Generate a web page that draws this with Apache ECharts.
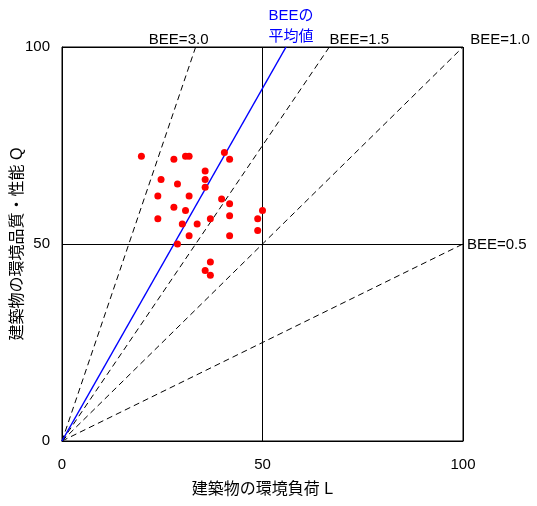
<!DOCTYPE html>
<html lang="ja">
  <head>
    <meta charset="utf-8" />
    <script type="text/javascript" src="https://cdn.jsdelivr.net/npm/echarts@6/dist/echarts.min.js"></script>
    <title>BEE chart</title>
    <style>
      html, body { margin: 0; padding: 0; background: #fff; }
      #chart { width: 537px; height: 506px; }
    </style>
  </head>
  <body>
    <div id="chart"></div>
    <script>
      // 建物ごとの L（環境負荷）と Q（環境品質・性能）
      var loadL = [19.8, 27.9, 30.8, 31.7, 40.5, 41.8, 35.7, 35.7, 24.7, 28.8,
                   35.7, 23.9, 31.7, 39.8, 41.8, 27.9, 30.8, 50.0, 41.8, 23.9,
                   37.0, 48.8, 30.0, 33.7, 31.7, 41.8, 48.8, 28.8, 37.0, 35.7, 37.0]
      var qualityQ = [72.3, 71.5, 72.3, 72.3, 73.2, 71.5, 68.5, 66.4, 66.4, 65.2,
                      64.4, 62.2, 62.2, 61.4, 60.2, 59.3, 58.5, 58.5, 57.2, 56.4,
                      56.4, 56.4, 55.1, 55.1, 52.1, 52.1, 53.4, 50.0, 45.4, 43.3, 42.1]

      // BEE = Q / L の基準線
      var beeLevels = [3.0, 1.5, 1.0, 0.5]
      var beeLabels = ['BEE=3.0', 'BEE=1.5', 'BEE=1.0', 'BEE=0.5']
      var beeAverage = 1.79
      var axisTicks = [0, 50, 100]

      var font = '"Liberation Sans", "Noto Sans CJK JP", sans-serif'

      // 端点ごとのラベル位置
      var labelPos = [
        { position: 'top', offset: [-17, 1] },
        { position: 'top', offset: [30, 1] },
        { position: 'top', offset: [37, 1] },
        { position: 'right', offset: [3, 1] }
      ]

      function beeLine (bee, i) {
        // Q = bee * L を枠（0..100）で切る
        var end = bee >= 1 ? [100 / bee, 100] : [100, 100 * bee]
        return {
          type: 'line',
          silent: true,
          showSymbol: true,
          symbol: 'circle',
          symbolSize: 0,
          lineStyle: { color: '#000', width: 1, type: [6, 4] },
          data: [
            [0, 0],
            {
              value: end,
              label: {
                show: true,
                position: labelPos[i].position,
                offset: labelPos[i].offset,
                distance: 1,
                formatter: beeLabels[i],
                color: '#000',
                fontSize: 15,
                fontFamily: font
              }
            }
          ],
          z: 2
        }
      }

      window.onload = function () {
        var chart = echarts.init(document.getElementById('chart'))
        var series = beeLevels.map(beeLine)

        series.push({
          type: 'line',
          silent: true,
          showSymbol: true,
          symbol: 'circle',
          symbolSize: 0,
          lineStyle: { color: '#0000ff', width: 1.5 },
          data: [
            [0, 0],
            {
              value: [100 / beeAverage, 100],
              label: {
                show: true,
                position: 'top',
                distance: 0,
                offset: [5, 0],
                align: 'center',
                formatter: 'BEEの\n平均値',
                color: '#0000ff',
                fontSize: 15,
                lineHeight: 21,
                fontFamily: font
              }
            }
          ],
          z: 3
        })

        series.push({
          type: 'scatter',
          symbolSize: 7,
          itemStyle: { color: '#ff0000', opacity: 1 },
          data: loadL.map(function (l, i) { return [l, qualityQ[i]] }),
          z: 4
        })

        chart.setOption({
          animation: false,
          grid: {
            left: 62, right: 74, top: 47, bottom: 65,
            outerBoundsMode: 'none',
            containLabel: false,
            show: true, borderColor: '#000', borderWidth: 1
          },
          xAxis: {
            type: 'value',
            min: axisTicks[0], max: axisTicks[2], interval: 50,
            name: '建築物の環境負荷 L',
            nameLocation: 'middle',
            nameGap: 41,
            nameMoveOverlap: false,
            nameTextStyle: { color: '#000', fontSize: 16, fontFamily: font },
            axisLine: { show: true, lineStyle: { color: '#000' } },
            axisTick: { show: false },
            axisLabel: { color: '#000', fontSize: 15, margin: 16, fontFamily: font },
            splitLine: { show: true, lineStyle: { color: '#000', width: 1 } }
          },
          yAxis: {
            type: 'value',
            min: axisTicks[0], max: axisTicks[2], interval: 50,
            name: '建築物の環境品質・性能 Q',
            nameLocation: 'middle',
            nameGap: 36,
            nameMoveOverlap: false,
            nameTextStyle: { color: '#000', fontSize: 16, fontFamily: font },
            axisLine: { show: true, lineStyle: { color: '#000' } },
            axisTick: { show: false },
            axisLabel: { color: '#000', fontSize: 15, margin: 12, fontFamily: font },
            splitLine: { show: true, lineStyle: { color: '#000', width: 1 } }
          },
          series: series
        })
      }
    </script>
  </body>
</html>
